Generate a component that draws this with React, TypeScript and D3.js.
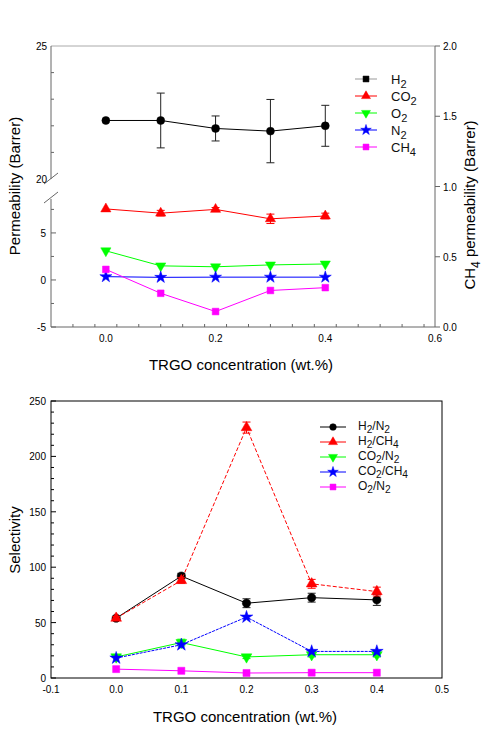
import * as d3 from 'd3'

// ---- data ----
const conc = [0.0, 0.1, 0.2, 0.3, 0.4]

const permH2 = [22.2, 22.2, 21.9, 21.8, 22.0]
const permH2Err = [0, 1.03, 0.47, 1.19, 0.77]
const permCO2 = [7.55, 7.1, 7.5, 6.5, 6.8]
const permCO2Err = [0, 0.3, 0.2, 0.5, 0.3]
const permO2 = [3.1, 1.5, 1.4, 1.6, 1.7]
const permN2 = [0.35, 0.28, 0.3, 0.3, 0.3]
const permCH4 = [0.41, 0.24, 0.11, 0.26, 0.28] // right axis

const selH2N2 = [54, 92, 67.5, 72.5, 70.5]
const selH2N2Err = [1.5, 2.5, 4, 4, 5]
const selH2CH4 = [54, 88, 226, 85, 78]
const selH2CH4Err = [1.5, 2.5, 5, 4, 4]
const selCO2N2 = [19, 32, 19, 21, 21]
const selCO2N2Err = [0, 3, 1.5, 2, 2]
const selCO2CH4 = [18, 30, 55, 24, 24]
const selO2N2 = [8, 6.5, 4.5, 4.8, 4.8]

const topXTicks = [0.0, 0.2, 0.4, 0.6]
const topLeftUpperTicks = [20, 25]
const topLeftLowerTicks = [-5, 0, 5]
const topRightTicks = [0.0, 0.5, 1.0, 1.5, 2.0]
const botXTicks = [-0.1, 0.0, 0.1, 0.2, 0.3, 0.4, 0.5]
const botYTicks = [0, 50, 100, 150, 200, 250]

const FONT = '"Liberation Sans", Arial, sans-serif'

type Sub = [string, boolean][]
const lab = (s: string): Sub => {
  // digits become subscripts
  return s.split(/(\d)/).filter(p => p !== '').map(p => [p, /\d/.test(p)] as [string, boolean])
}

const SubText = ({ x, y, text, size }: { x: number, y: number, text: string, size: number }) => {
  const parts = lab(text)
  let prevSub = false
  return (
    <text x={x} y={y} fontSize={size} fontFamily={FONT} fill="#111">
      {parts.map(([t, sub], i) => {
        let dy = 0
        if (sub && !prevSub) dy = size * 0.28
        if (!sub && prevSub) dy = -size * 0.28
        prevSub = sub
        return <tspan key={i} dy={dy} fontSize={sub ? size * 0.85 : size}>{t}</tspan>
      })}
    </text>
  )
}

const Marker = ({ kind, x, y, color, size }: { kind: string, x: number, y: number, color: string, size: number }) => {
  const sym = kind === 'circle' ? d3.symbolCircle
    : kind === 'square' ? d3.symbolSquare
    : kind === 'star' ? d3.symbolStar
    : d3.symbolTriangle
  const d = d3.symbol().type(sym).size(size)() as string
  const rot = kind === 'down' ? 180 : 0
  return <path d={d} transform={`translate(${x},${y}) rotate(${rot})`} fill={color} stroke={color} strokeWidth={0.5} />
}

interface Series {
  name: string
  vals: number[]
  err?: number[]
  color: string
  kind: string
  y: d3.ScaleLinear<number, number>
  dash?: string
  size: number
}

const SeriesMarks = ({ s, x }: { s: Series, x: d3.ScaleLinear<number, number> }) => {
  const line = d3.line<number>().x((_, i) => x(conc[i])).y(d => s.y(d))
  return (
    <g>
      <path d={line(s.vals) as string} fill="none" stroke={s.color} strokeWidth={1} strokeDasharray={s.dash} />
      {s.err && s.vals.map((v, i) => s.err![i] > 0 && (
        <g key={'e' + i} stroke={s.color === '#000' ? '#222' : s.color} strokeWidth={1}>
          <line x1={x(conc[i])} x2={x(conc[i])} y1={s.y(v - s.err![i])} y2={s.y(v + s.err![i])} />
          <line x1={x(conc[i]) - 4} x2={x(conc[i]) + 4} y1={s.y(v - s.err![i])} y2={s.y(v - s.err![i])} />
          <line x1={x(conc[i]) - 4} x2={x(conc[i]) + 4} y1={s.y(v + s.err![i])} y2={s.y(v + s.err![i])} />
        </g>
      ))}
      {s.vals.map((v, i) => <Marker key={i} kind={s.kind} x={x(conc[i])} y={s.y(v)} color={s.color} size={s.size} />)}
    </g>
  )
}

const TopChart = () => {
  const L = 51, R = 435, T = 46, B = 327
  const x = d3.scaleLinear().domain([-0.1, 0.6]).range([L, R])
  const yUp = d3.scaleLinear().domain([20, 25]).range([179, T])
  const yLow = d3.scaleLinear().domain([-5, 8.5]).range([B, 200])
  const yR = d3.scaleLinear().domain([0, 2]).range([B, T])
  const axisCol = '#666'

  const series: Series[] = [
    { name: 'H2', vals: permH2, err: permH2Err, color: '#000', kind: 'circle', y: yUp, size: 50 },
    { name: 'CO2', vals: permCO2, err: permCO2Err, color: '#f00', kind: 'triangle', y: yLow, size: 45 },
    { name: 'O2', vals: permO2, color: '#0f0', kind: 'down', y: yLow, size: 45 },
    { name: 'N2', vals: permN2, color: '#00f', kind: 'star', y: yLow, size: 45 },
    { name: 'CH4', vals: permCH4, color: '#f0f', kind: 'square', y: yR, size: 45 },
  ]
  const legendIcon = ['square', 'triangle', 'down', 'star', 'square']

  const minorX = d3.range(-0.1, 0.6001, 0.04).filter(v => v > -0.1)
  const minorUp = [21, 22, 23, 24]
  const minorLow = [-2.5, 2.5, 7.5]

  return (
    <g>
      {/* frame */}
      <line x1={L} x2={R} y1={T} y2={T} stroke="#aaa" />
      <line x1={L} x2={R} y1={B} y2={B} stroke={axisCol} />
      <line x1={R} x2={R} y1={T} y2={B} stroke={axisCol} />
      <line x1={L} x2={L} y1={T} y2={179} stroke={axisCol} />
      <line x1={L} x2={L} y1={199} y2={B} stroke={axisCol} />
      <line x1={44} x2={58} y1={184} y2={173} stroke={axisCol} />
      <line x1={44} x2={58} y1={203} y2={192} stroke={axisCol} />

      {/* ticks */}
      {topLeftUpperTicks.map(t => (
        <g key={'u' + t}>
          <text x={L - 4} y={yUp(t) + 4} textAnchor="end" fontSize={10} fontFamily={FONT}>{t}</text>
        </g>
      ))}
      {minorUp.map(t => <line key={'mu' + t} x1={L} x2={L + 3} y1={yUp(t)} y2={yUp(t)} stroke={axisCol} />)}
      {topLeftLowerTicks.map(t => (
        <g key={'l' + t}>
          <line x1={L} x2={L + 5} y1={yLow(t)} y2={yLow(t)} stroke={axisCol} />
          <text x={L - 5} y={yLow(t) + 4} textAnchor="end" fontSize={10} fontFamily={FONT}>{t}</text>
        </g>
      ))}
      {minorLow.map(t => <line key={'ml' + t} x1={L} x2={L + 3} y1={yLow(t)} y2={yLow(t)} stroke={axisCol} />)}
      {topRightTicks.map(t => (
        <g key={'r' + t}>
          <line x1={R} x2={R + 5} y1={yR(t)} y2={yR(t)} stroke={axisCol} />
          <text x={R + 8} y={yR(t) + 4} fontSize={10} fontFamily={FONT}>{t.toFixed(1)}</text>
        </g>
      ))}
      {minorX.map((t, i) => <line key={'mx' + i} x1={x(t)} x2={x(t)} y1={B} y2={B - 3} stroke={axisCol} />)}
      {topXTicks.map(t => (
        <text key={'x' + t} x={x(t)} y={B + 15} textAnchor="middle" fontSize={10} fontFamily={FONT}>{t.toFixed(1)}</text>
      ))}

      {series.map(s => <SeriesMarks key={s.name} s={s} x={x} />)}

      {/* legend */}
      {series.map((s, i) => (
        <g key={'lg' + s.name}>
          <line x1={355} x2={377} y1={79 + i * 17} y2={79 + i * 17} stroke={s.color === '#000' ? '#999' : s.color} />
          <Marker kind={legendIcon[i]} x={366} y={79 + i * 17} color={s.color} size={35} />
          <SubText x={391} y={84 + i * 17} text={s.name} size={13} />
        </g>
      ))}

      <text transform={`translate(20,${186}) rotate(-90)`} textAnchor="middle" fontSize={15} fontFamily={FONT}>Permeability (Barrer)</text>
      <text transform={`translate(475,${205}) rotate(-90)`} textAnchor="middle" fontSize={15} fontFamily={FONT}>
        CH<tspan dy={5} fontSize={12}>4</tspan><tspan dy={-5}> permeability (Barrer)</tspan>
      </text>
      <text x={241} y={370} textAnchor="middle" fontSize={15} fontFamily={FONT}>TRGO concentration (wt.%)</text>
    </g>
  )
}

const BottomChart = () => {
  const L = 51, R = 442, T = 401, B = 678
  const x = d3.scaleLinear().domain([-0.1, 0.5]).range([L, R])
  const y = d3.scaleLinear().domain([0, 250]).range([B, T])

  const series: Series[] = [
    { name: 'H2/N2', vals: selH2N2, err: selH2N2Err, color: '#000', kind: 'circle', y, size: 55 },
    { name: 'H2/CH4', vals: selH2CH4, err: selH2CH4Err, color: '#f00', kind: 'triangle', y, dash: '4,2', size: 50 },
    { name: 'CO2/N2', vals: selCO2N2, err: selCO2N2Err, color: '#0f0', kind: 'down', y, size: 50 },
    { name: 'CO2/CH4', vals: selCO2CH4, color: '#00f', kind: 'star', y, dash: '3,1', size: 50 },
    { name: 'O2/N2', vals: selO2N2, color: '#f0f', kind: 'square', y, size: 50 },
  ]
  const minorY = d3.range(10, 250, 10).filter(v => v % 50 !== 0)

  return (
    <g>
      <rect x={L} y={T} width={R - L} height={B - T} fill="none" stroke="#000" />
      {minorY.map(t => <line key={'m' + t} x1={L} x2={L + 3} y1={y(t)} y2={y(t)} stroke="#000" />)}
      {botYTicks.map(t => (
        <g key={'y' + t}>
          <line x1={L} x2={L + 5} y1={y(t)} y2={y(t)} stroke="#000" />
          <text x={L - 5} y={y(t) + 4} textAnchor="end" fontSize={10} fontFamily={FONT}>{t}</text>
        </g>
      ))}
      {botXTicks.map(t => (
        <text key={'x' + t} x={x(t)} y={B + 15} textAnchor="middle" fontSize={10} fontFamily={FONT}>{t.toFixed(1)}</text>
      ))}

      {series.map(s => <SeriesMarks key={s.name} s={s} x={x} />)}

      {series.map((s, i) => (
        <g key={'lg' + s.name}>
          <line x1={320} x2={346} y1={427 + i * 15} y2={427 + i * 15} stroke={s.color} />
          <Marker kind={s.kind} x={333} y={427 + i * 15} color={s.color} size={35} />
          <SubText x={358} y={430 + i * 15} text={s.name} size={12} />
        </g>
      ))}

      <text transform={`translate(20,540) rotate(-90)`} textAnchor="middle" fontSize={15} fontFamily={FONT}>Selectivity</text>
      <text x={245} y={722} textAnchor="middle" fontSize={15} fontFamily={FONT}>TRGO concentration (wt.%)</text>
    </g>
  )
}

export default function App() {
  const w = 490, h = 730
  return (
    <svg width={w} height={h} style={{ position: 'absolute', left: 0, top: 0, background: '#fff' }}>
      <rect width={w} height={h} fill="#fff" />
      <TopChart />
      <BottomChart />
    </svg>
  )
}
